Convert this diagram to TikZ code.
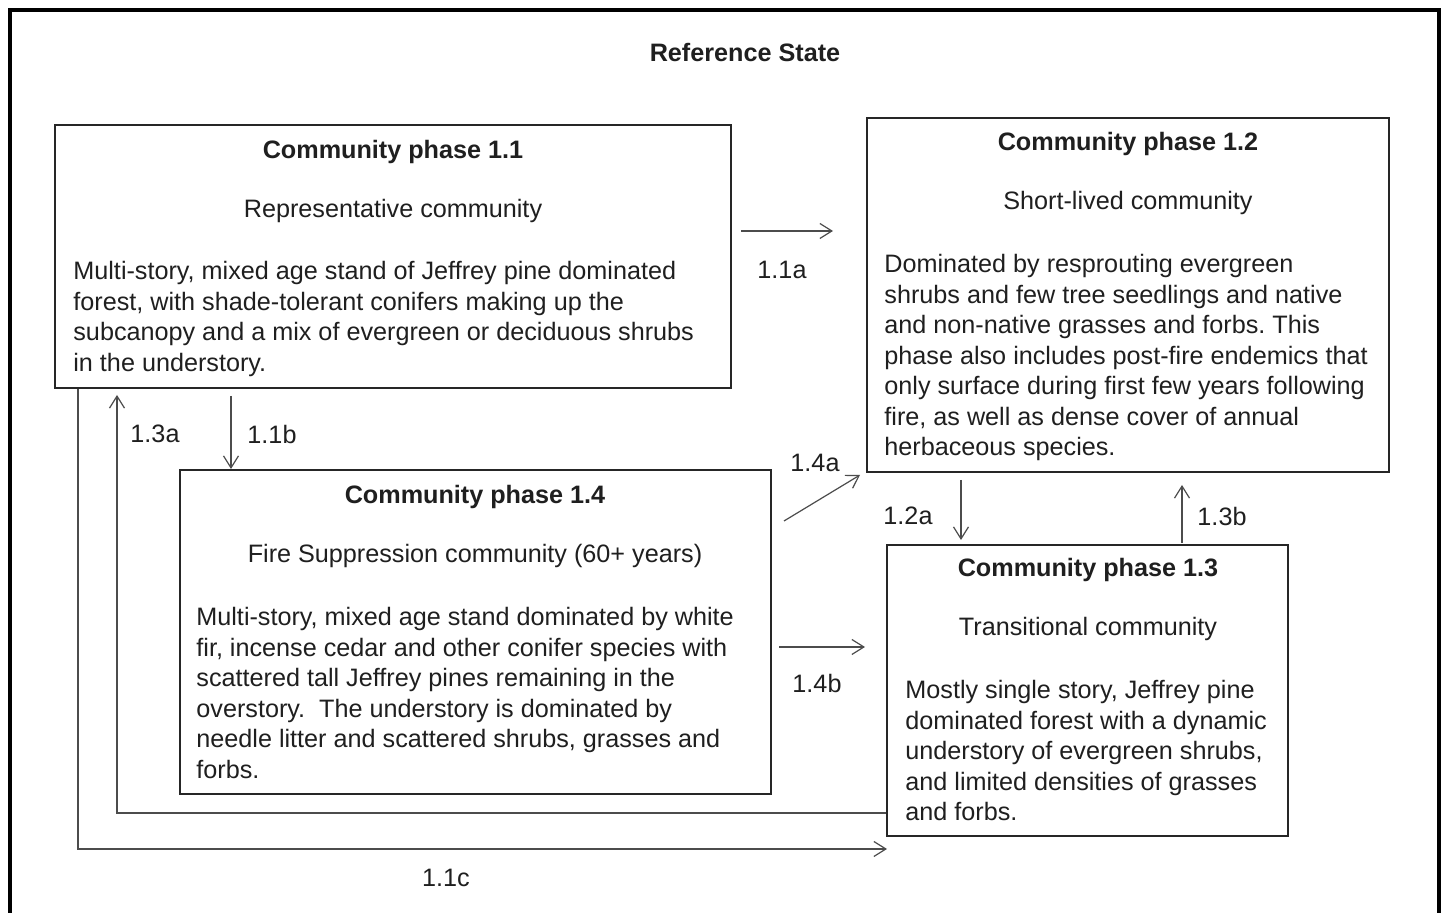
\documentclass[tikz,border=0pt]{standalone}
\usepackage{fontspec}
\setmainfont{Liberation Sans}
\usetikzlibrary{arrows.meta,fit}
\frenchspacing
\begin{document}
\begin{tikzpicture}[x=0.5pt,y=-0.5pt,
  every node/.style={font=\fontsize{12.6pt}{15.25pt}\selectfont\frenchspacing, text=black!88, inner sep=0pt},
  box/.style={draw=black!85, line width=1pt, inner sep=0pt},
  ttl/.style={font=\fontsize{12.6pt}{15.25pt}\selectfont\bfseries},
  body/.style={align=left, anchor=north west},
  conn/.style={draw=black!70, line width=0.6pt, -{Straight Barb[length=6pt,width=7.5pt]}},
  lbl/.style={}
]
\useasboundingbox (0,0) rectangle (1448,913);
\fill[white] (0,0) rectangle (1448,913);
% outer frame (bottom edge cut off)
\draw[line width=2pt, black] (10,930) -- (10,10) -- (1439,10) -- (1439,930);
\node[ttl] (title) at (745,53) {Reference State};

% boxes
\node[box, fit={(55,125) (731,388)}] (b11) {};
\node[box, fit={(867,118) (1389,472)}] (b12) {};
\node[box, fit={(180,470) (771,794)}] (b14) {};
\node[box, fit={(887,545) (1288,836)}] (b13) {};

% box 1.1
\node[ttl] (t11) at (393,152) {Community phase 1.1};
\node (s11) at (393,211) {Representative community};
\node[body] (d11) at (73,261) {Multi-story, mixed age stand of Jeffrey pine dominated\\
forest, with shade-tolerant conifers making up the\\
subcanopy and a mix of evergreen or deciduous shrubs\\
in the understory.};

% box 1.2
\node[ttl] (t12) at (1128,144) {Community phase 1.2};
\node (s12) at (1128,203) {Short-lived community};
\node[body] (d12) at (884,254) {Dominated by resprouting evergreen\\
shrubs and few tree seedlings and native\\
and non-native grasses and forbs. This\\
phase also includes post-fire endemics that\\
only surface during first few years following\\
fire, as well as dense cover of annual\\
herbaceous species.};

% box 1.4
\node[ttl] (t14) at (475,497) {Community phase 1.4};
\node (s14) at (475,556) {Fire Suppression community (60+ years)};
\node[body] (d14) at (196,607) {Multi-story, mixed age stand dominated by white\\
fir, incense cedar and other conifer species with\\
scattered tall Jeffrey pines remaining in the\\
overstory.\ \ The understory is dominated by\\
needle litter and scattered shrubs, grasses and\\
forbs.};

% box 1.3
\node[ttl] (t13) at (1088,570) {Community phase 1.3};
\node (s13) at (1088,629) {Transitional community};
\node[body] (d13) at (905,680) {Mostly single story, Jeffrey pine\\
dominated forest with a dynamic\\
understory of evergreen shrubs,\\
and limited densities of grasses\\
and forbs.};

% free connector ends
\coordinate (a11s) at (741,231);
\coordinate (a11e) at (833,231);
\coordinate (a14as) at (784,521);
\coordinate (a14ae) at (860,475);
\coordinate (a14bs) at (779,647);
\coordinate (a14be) at (865,647);
\coordinate (a12s) at (961,480);
\coordinate (a12e) at (961,540);
\coordinate (a13bs) at (1182,543);
\coordinate (a13be) at (1182,485);
\coordinate (a11bs) at (231,396);
\coordinate (a13ae) at (117,395);
\coordinate (a11ce) at (887,849);

% connectors
\draw[conn] (a11s) -- (a11e);
\draw[conn] (a14as) -- (a14ae);
\draw[conn] (a14bs) -- (a14be);
\draw[conn] (a12s) -- (a12e);
\draw[conn] (a13bs) -- (a13be);
\draw[conn] (a11bs) -- (b14.north -| a11bs);
\draw[conn] (b13.west |- 0,813) -- (117,813) -- (a13ae);
\draw[conn] (b11.south -| 78,0) -- (78,849) -- (a11ce);

% labels
\node[lbl] (l11a) at (782,270) {1.1a};
\node[lbl] (l11b) at (272,434) {1.1b};
\node[lbl] (l13a) at (155,434) {1.3a};
\node[lbl] (l14a) at (815,463) {1.4a};
\node[lbl] (l14b) at (817,683) {1.4b};
\node[lbl] (l12a) at (908,516) {1.2a};
\node[lbl] (l13b) at (1222,517) {1.3b};
\node[lbl] (l11c) at (446,878) {1.1c};
\end{tikzpicture}
\end{document}
